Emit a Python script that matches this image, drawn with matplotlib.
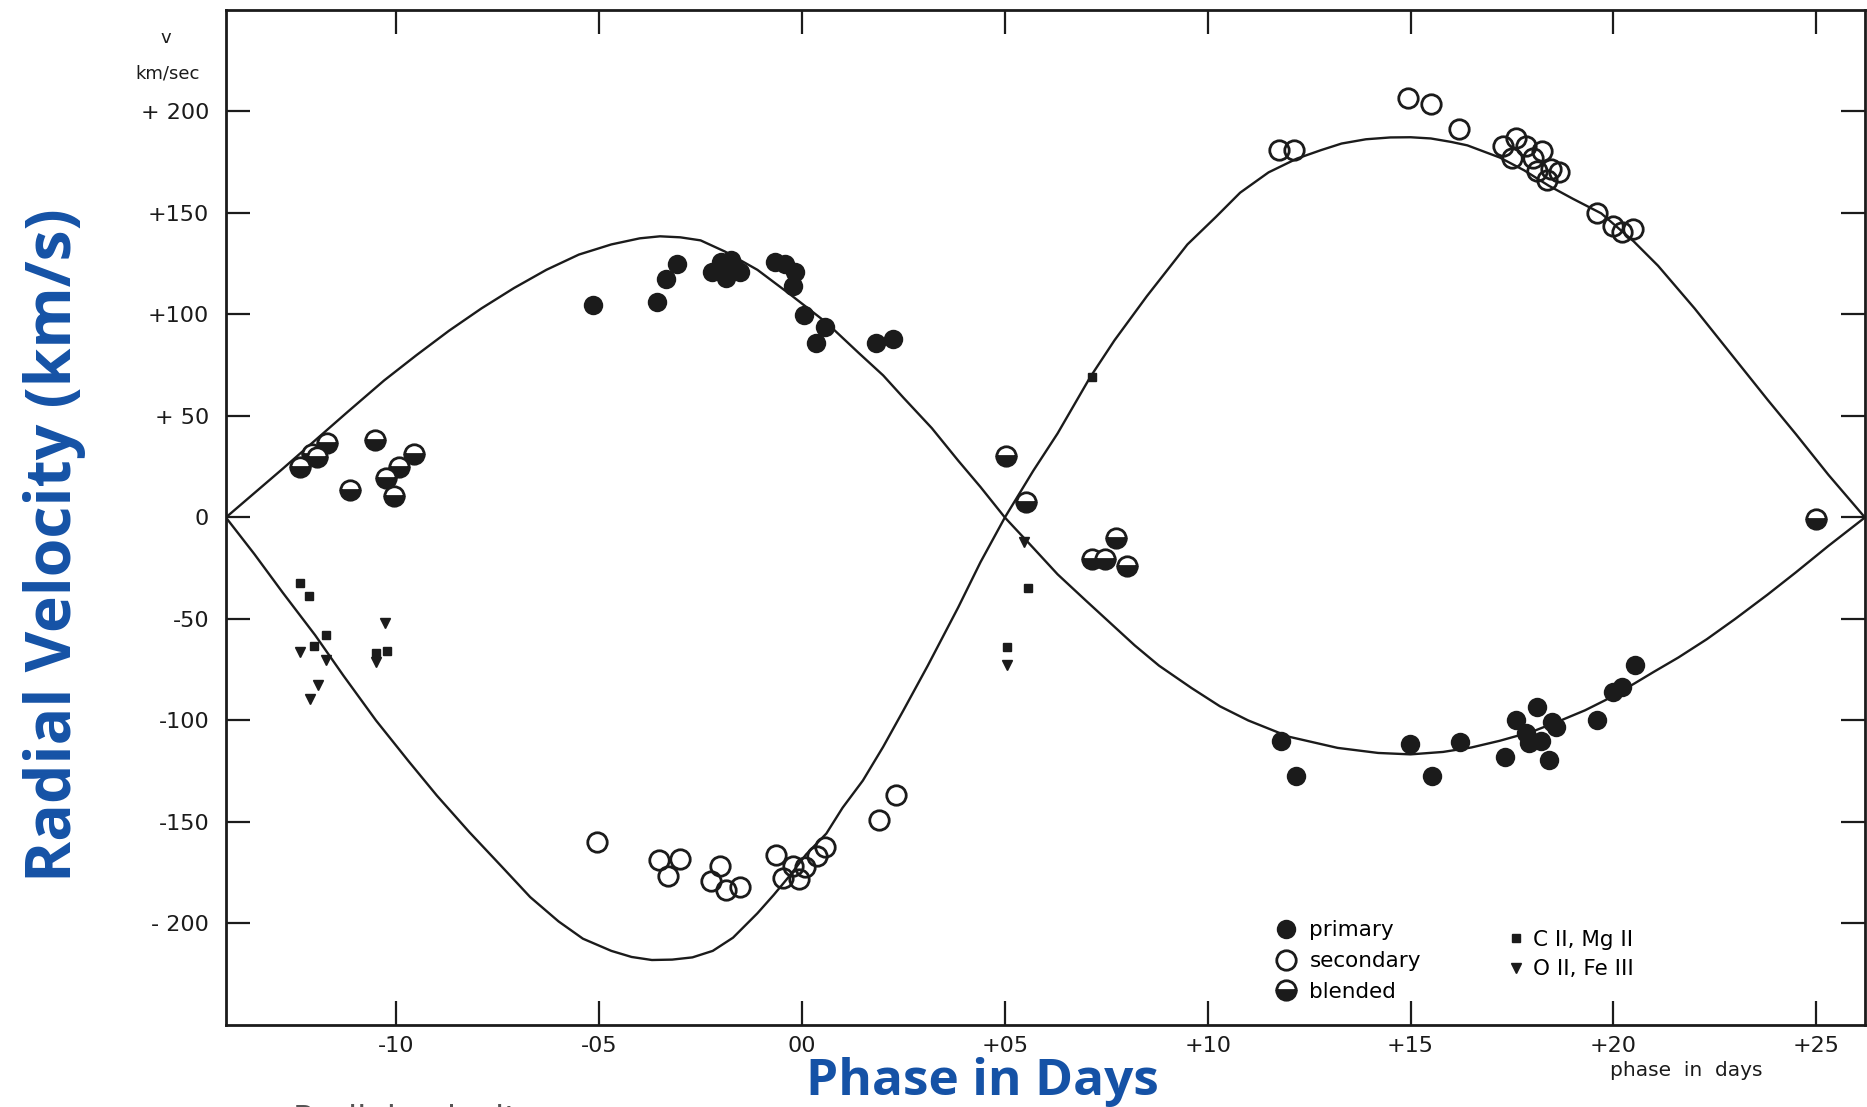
# radial velocity curves of a double-lined binary, redrawn from a scanned figure
import matplotlib
matplotlib.use('Agg')
import matplotlib.pyplot as plt

# primary (filled circles)
prim_x = [-0.516, -0.358, -0.336, -0.309, -0.222, -0.200, -0.188, -0.175, -0.165, -0.153,
          -0.067, -0.042, -0.017, -0.022, 0.005, 0.057, 0.035, 0.183, 0.225,
          1.180, 1.217, 1.499, 1.553, 1.622, 1.733, 1.760, 1.785, 1.793, 1.812, 1.822,
          1.849, 1.842, 1.859, 1.960, 1.998, 2.020, 2.052]
prim_v = [104.9, 105.9, 117.7, 125.0, 120.7, 125.6, 118.0, 126.6, 122.7, 120.7,
          125.6, 125.0, 120.7, 114.0, 99.5, 93.6, 85.7, 85.7, 87.7,
          -110.3, -127.6, -111.8, -127.6, -110.8, -118.2, -100.0, -106.4, -111.3, -93.6, -109.9,
          -101.0, -119.7, -103.4, -100.0, -86.2, -83.7, -72.9]

# secondary (open circles)
sec_x = [-0.506, -0.353, -0.301, -0.331, -0.202, -0.225, -0.188, -0.153, -0.064, -0.047,
         -0.022, -0.007, 0.007, 0.037, 0.057, 0.190, 0.232,
         1.175, 1.212, 1.494, 1.551, 1.620, 1.728, 1.760, 1.751, 1.785, 1.802, 1.825,
         1.812, 1.847, 1.867, 1.837, 1.960, 1.998, 2.020, 2.049]
sec_v = [-160.1, -168.5, -168.0, -176.4, -171.9, -179.3, -183.3, -181.8, -166.5, -177.8,
         -171.9, -178.3, -172.4, -167.0, -162.1, -148.8, -136.9,
         180.8, 180.8, 206.4, 203.9, 191.6, 182.8, 186.7, 177.3, 182.8, 177.3, 180.3,
         170.9, 171.9, 170.0, 166.0, 149.8, 143.8, 140.4, 141.9]

# blended lines (half filled circles)
blend_x = [-1.237, -1.207, -1.195, -1.170, -1.114, -1.052, -1.025, -0.993, -1.005, -0.956,
           0.504, 0.553, 0.775, 0.714, 0.748, 0.800, 2.499]
blend_v = [25.1, 31.5, 29.6, 36.9, 13.3, 38.4, 19.2, 25.1, 10.8, 31.5,
           30.5, 7.4, -9.9, -20.7, -20.7, -24.1, -1.0]

# C II, Mg II (squares)
cmg_x = [-1.237, -1.215, -1.173, -1.202, -1.022, -1.049, 0.714, 0.556, 0.506]
cmg_v = [-32.5, -38.9, -58.1, -63.1, -66.0, -67.0, 69.0, -34.5, -64.0]

# O II, Fe III (triangles)
ofe_x = [-1.237, -1.173, -1.193, -1.212, -1.027, -1.049, 0.548, 0.506]
ofe_v = [-66.5, -70.0, -82.3, -89.2, -52.2, -71.4, -12.3, -72.9]

# fitted curves
curveA_x = [-1.42, -1.35, -1.28, -1.20, -1.12, -1.03, -0.95, -0.87, -0.79, -0.71,
            -0.63, -0.55, -0.47, -0.40, -0.35, -0.30, -0.25, -0.19, -0.11, -0.03,
            0.06, 0.14, 0.20, 0.25, 0.32, 0.385, 0.44, 0.50, 0.57, 0.63,
            0.70, 0.76, 0.82, 0.88, 0.96, 1.03, 1.10, 1.20, 1.32, 1.42,
            1.50, 1.58, 1.65, 1.72, 1.80, 1.87, 1.93, 1.98, 2.05, 2.10,
            2.16, 2.23, 2.30, 2.38, 2.45, 2.53, 2.62]
curveA_v = [0, 12, 24, 38, 52, 67.5, 80, 92, 103, 113,
            122, 129.5, 134.5, 137.5, 138.5, 138, 136.5, 131, 122, 110,
            96, 81, 70, 59, 44, 28, 15, 0, -15, -28,
            -41, -52, -63, -73, -84, -93, -100, -108, -113.5, -116,
            -116.7, -115.5, -113.3, -110, -105.5, -100, -95, -90, -82, -76,
            -69, -60, -50, -38, -27, -14, 0]

curveB_x = [-1.42, -1.35, -1.28, -1.20, -1.13, -1.05, -0.97, -0.90, -0.82, -0.74,
            -0.67, -0.60, -0.54, -0.47, -0.42, -0.37, -0.32, -0.27, -0.22, -0.17,
            -0.11, -0.07, -0.03, 0.01, 0.06, 0.10, 0.15, 0.20, 0.25, 0.31,
            0.385, 0.44, 0.50, 0.57, 0.63, 0.71, 0.77, 0.85, 0.95, 1.02,
            1.08, 1.15, 1.22, 1.28, 1.33, 1.39, 1.45, 1.50, 1.55, 1.60,
            1.64, 1.72, 1.78, 1.84, 1.90, 1.97, 2.05, 2.11, 2.20, 2.30,
            2.38, 2.45, 2.53, 2.62]
curveB_v = [0, -18, -37, -58, -78, -100, -120, -137, -155, -172,
            -187, -199, -207.5, -213.5, -216.5, -218, -217.8, -216.7, -213.5, -207,
            -195, -186, -176.4, -166, -155.7, -143, -129.6, -113, -95, -73,
            -44.3, -22, 0, 23, 41.4, 69, 87.2, 109, 134.5, 148,
            160, 170, 176.8, 181, 184.2, 186.3, 187.2, 187.3, 186.7, 185,
            183.3, 177.3, 171, 163.5, 157, 149.8, 136, 124, 103, 78,
            58, 41, 21, 0]

xticks = [-1.0, -0.5, 0.0, 0.5, 1.0, 1.5, 2.0, 2.5]
xtick_labels = ['-10', '-05', '00', '+05', '+10', '+15', '+20', '+25']
yticks = [200, 150, 100, 50, 0, -50, -100, -150, -200]
ytick_labels = ['+ 200', '+150', '+100', '+ 50', '0', '-50', '-100', '-150', '- 200']

ink = '#1b1b1b'
blue = '#1552a6'

fig = plt.figure(figsize=(18.67, 11.07), dpi=100)
ax = fig.add_axes([0.121, 0.0741, 0.8779, 0.9169])

ax.plot(curveA_x, curveA_v, '-', color=ink, linewidth=1.7)
ax.plot(curveB_x, curveB_v, '-', color=ink, linewidth=1.7)

h1, = ax.plot(prim_x, prim_v, 'o', color=ink, markersize=14, markeredgewidth=0,
              linestyle='none', label='primary')
h2, = ax.plot(sec_x, sec_v, 'o', markerfacecolor='none', markeredgecolor=ink,
              markersize=14, markeredgewidth=2.0, linestyle='none', label='secondary')
h3, = ax.plot(blend_x, blend_v, 'o', fillstyle='bottom', markerfacecolor=ink,
              markerfacecoloralt='white', markeredgecolor=ink, markersize=14,
              markeredgewidth=2.0, linestyle='none', label='blended')
h4, = ax.plot(cmg_x, cmg_v, 's', color=ink, markersize=5.5, linestyle='none',
              label='C II, Mg II')
h5, = ax.plot(ofe_x, ofe_v, 'v', color=ink, markersize=6.5, linestyle='none',
              label='O II, Fe III')

ax.set_xlim(-1.42, 2.62)
ax.set_ylim(-250, 250)
ax.set_xticks(xticks)
ax.set_xticklabels(xtick_labels)
ax.set_yticks(yticks)
ax.set_yticklabels(ytick_labels)
ax.tick_params(axis='both', direction='in', length=17, width=1.6, color=ink,
               labelsize=16, labelcolor=ink, top=True, right=True)
ax.tick_params(axis='x', pad=8)
ax.tick_params(axis='y', pad=12)
for s in ax.spines.values():
    s.set_linewidth(2.0)
    s.set_color(ink)

leg1 = ax.legend(handles=[h1, h2, h3], loc='upper left', bbox_to_anchor=(0.640, 0.103),
                 frameon=False, fontsize=15.5, handlelength=1.0, handletextpad=0.6,
                 labelspacing=0.5, borderpad=0, borderaxespad=0)
ax.add_artist(leg1)
ax.legend(handles=[h4, h5], loc='upper left', bbox_to_anchor=(0.782, 0.094),
          frameon=False, fontsize=15.5, handlelength=0.8, handletextpad=0.4,
          labelspacing=0.45, borderpad=0, borderaxespad=0)

# axis annotations from the original plate
fig.text(166 / 1867, 1 - 38 / 1107, 'v', ha='center', va='center', fontsize=13, color=ink)
fig.text(168 / 1867, 1 - 74 / 1107, 'km/sec', ha='center', va='center', fontsize=13,
         color=ink)
fig.text(1686 / 1867, 1 - 1070 / 1107, 'phase  in  days', ha='center', va='center',
         fontsize=14.5, color=ink)

# blue overlay labels
fig.text(0.029, 0.508, 'Radial Velocity (km/s)', rotation=90, ha='center', va='center',
         fontsize=45, fontweight='bold', color=blue, family='Open Sans')
fig.text(0.526, 0.011, 'Phase in Days', ha='center', va='baseline', fontsize=37,
         fontweight='bold', color=blue, family='Open Sans')
fig.text(0.157, -0.012, 'Radial velocity curves', ha='left', va='center', fontsize=24,
         color='#555555')

fig.savefig('out.png', dpi=100)
